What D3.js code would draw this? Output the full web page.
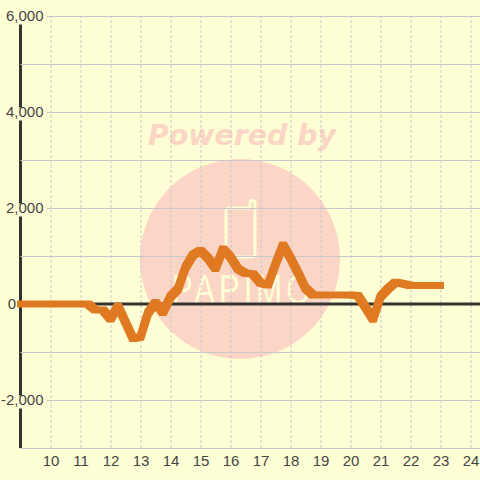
<!DOCTYPE html>
<html>
<head>
<meta charset="utf-8">
<script src="https://cdnjs.cloudflare.com/ajax/libs/d3/7.8.5/d3.min.js"></script>
<style>
  html, body { margin: 0; padding: 0; background: #ffffd5; }
  svg { display: block; }
  text { font-family: "Liberation Sans", Arial, sans-serif; }
</style>
</head>
<body>
<div id="chart"></div>
<script>
const hours = [
  9, 9.25, 9.5, 9.75, 10, 10.25, 10.5, 10.75, 11, 11.25, 11.5, 11.75,
  12, 12.25, 12.5, 12.75, 13, 13.25, 13.5, 13.75, 14, 14.25, 14.5, 14.75,
  15, 15.25, 15.5, 15.75, 16, 16.25, 16.5, 16.75, 17, 17.25, 17.5, 17.75,
  18, 18.25, 18.5, 18.75, 19, 19.25, 19.5, 19.75, 20, 20.25, 20.5, 20.75,
  21, 21.25, 21.5, 21.75, 22, 22.25, 22.5, 22.75, 23
];
const values = [
  0, 0, 0, 0, 0, 0, 0, 0, 0, 0, -125, -125,
  -315, -40, -380, -717, -690, -190, 30, -175, 150, 310, 760, 1020,
  1115, 960, 740, 1145, 980, 730, 640, 625, 440, 395, 830, 1230,
  960, 650, 330, 190, 190, 190, 190, 190, 190, 170, -70, -320,
  150, 320, 455, 420, 385, 385, 385, 385, 385
];
const xTicks = [10, 11, 12, 13, 14, 15, 16, 17, 18, 19, 20, 21, 22, 23, 24];
const yTicks = [-3000, -2000, -1000, 0, 1000, 2000, 3000, 4000, 5000, 6000];
const yLabelled = [-2000, 0, 2000, 4000, 6000];

const width = 480, height = 480;
const bg = '#ffffd5', pink = '#fbd5c5', axisColor = '#333333', labelColor = '#444444', gridColor = '#c8c8cc';

const x = d3.scaleLinear().domain([9, 24]).range([20.5, 470.5]);
const y = d3.scaleLinear().domain([-3000, 6000]).range([448, 16]);

const svg = d3.select('#chart').append('svg')
  .attr('width', width)
  .attr('height', height);

svg.append('rect')
  .attr('width', width)
  .attr('height', height)
  .attr('fill', bg);

// watermark
const mark = svg.append('g').attr('class', 'watermark');
mark.append('circle')
  .attr('cx', 240)
  .attr('cy', 259)
  .attr('r', 100)
  .attr('fill', pink);
mark.append('text')
  .attr('x', 242)
  .attr('y', 145)
  .attr('text-anchor', 'middle')
  .style('font-family', '"DejaVu Sans"')
  .style('font-weight', 'bold')
  .style('font-style', 'italic')
  .style('font-size', '28.4px')
  .attr('fill', pink)
  .text('Powered by');
mark.append('path')
  .attr('d', 'M250 208 H229 Q226 208 226 211 V254 Q226 257 229 257 H252 Q255 257 255 254 V203 A2.5 2.5 0 0 0 250 203 Z')
  .attr('fill', 'none')
  .attr('stroke', bg)
  .attr('stroke-width', 3);
mark.append('text')
  .attr('transform', 'translate(172,304) scale(0.72,1)')
  .attr('textLength', 192)
  .attr('lengthAdjust', 'spacing')
  .style('font-size', '43px')
  .attr('fill', bg)
  .text('PAPIMO');

// vertical grid and hour labels
const xAxis = d3.axisBottom(x)
  .tickValues(xTicks)
  .tickSize(-432)
  .tickPadding(6);

svg.append('g')
  .attr('transform', 'translate(0,448)')
  .call(xAxis)
  .call(g => g.select('.domain').remove())
  .call(g => g.selectAll('line')
    .attr('stroke', gridColor)
    .attr('stroke-dasharray', '3,2'))
  .call(g => g.selectAll('text')
    .attr('y', 13)
    .attr('dy', '0.32em')
    .attr('fill', labelColor)
    .style('font-size', '15px'));

// left axis goes under the label backgrounds
svg.append('line')
  .attr('x1', x(9))
  .attr('x2', x(9))
  .attr('y1', y(6000))
  .attr('y2', y(-3000))
  .attr('stroke', axisColor)
  .attr('stroke-width', 3);

const yAxis = d3.axisLeft(y)
  .tickValues(yTicks)
  .tickSize(-(width - x(9)))
  .tickFormat(d => yLabelled.includes(d) ? d3.format(',')(d).replace('\u2212', '-') : '');

svg.append('g')
  .attr('transform', `translate(${x(9)},0)`)
  .call(yAxis)
  .call(g => g.select('.domain').remove())
  .call(g => g.selectAll('line').attr('stroke', gridColor))
  .call(g => g.selectAll('.tick').each(function (d) {
    const tick = d3.select(this);
    const label = tick.select('text')
      .attr('fill', labelColor)
      .style('font-size', '15px')
      .attr('dy', '0.32em');
    if (d === 0) {
      label.attr('x', -4.5);
    } else if (yLabelled.includes(d)) {
      label.attr('x', 23);
      tick.insert('rect', 'text')
        .attr('x', -16)
        .attr('y', -5)
        .attr('width', 42)
        .attr('height', 13)
        .attr('fill', bg);
    }
  }));

// zero line
svg.append('line')
  .attr('x1', x(9))
  .attr('x2', width)
  .attr('y1', y(0))
  .attr('y2', y(0))
  .attr('stroke', axisColor)
  .attr('stroke-width', 3);

// the line is dragged with a square pen, so each segment is the hull of two squares
const pen = 3.5;
const corners = ([px, py]) => [
  [px - pen, py - pen], [px + pen, py - pen], [px + pen, py + pen], [px - pen, py + pen]
];
const points = values.map((d, i) => [x(hours[i]), y(d)]);
const segments = d3.pairs(points)
  .map(([a, b]) => d3.polygonHull([...corners(a), ...corners(b)]));

svg.append('path')
  .attr('d', segments.map(hull => 'M' + hull.join('L') + 'Z').join(''))
  .attr('fill', '#df7a22');
</script>
</body>
</html>
